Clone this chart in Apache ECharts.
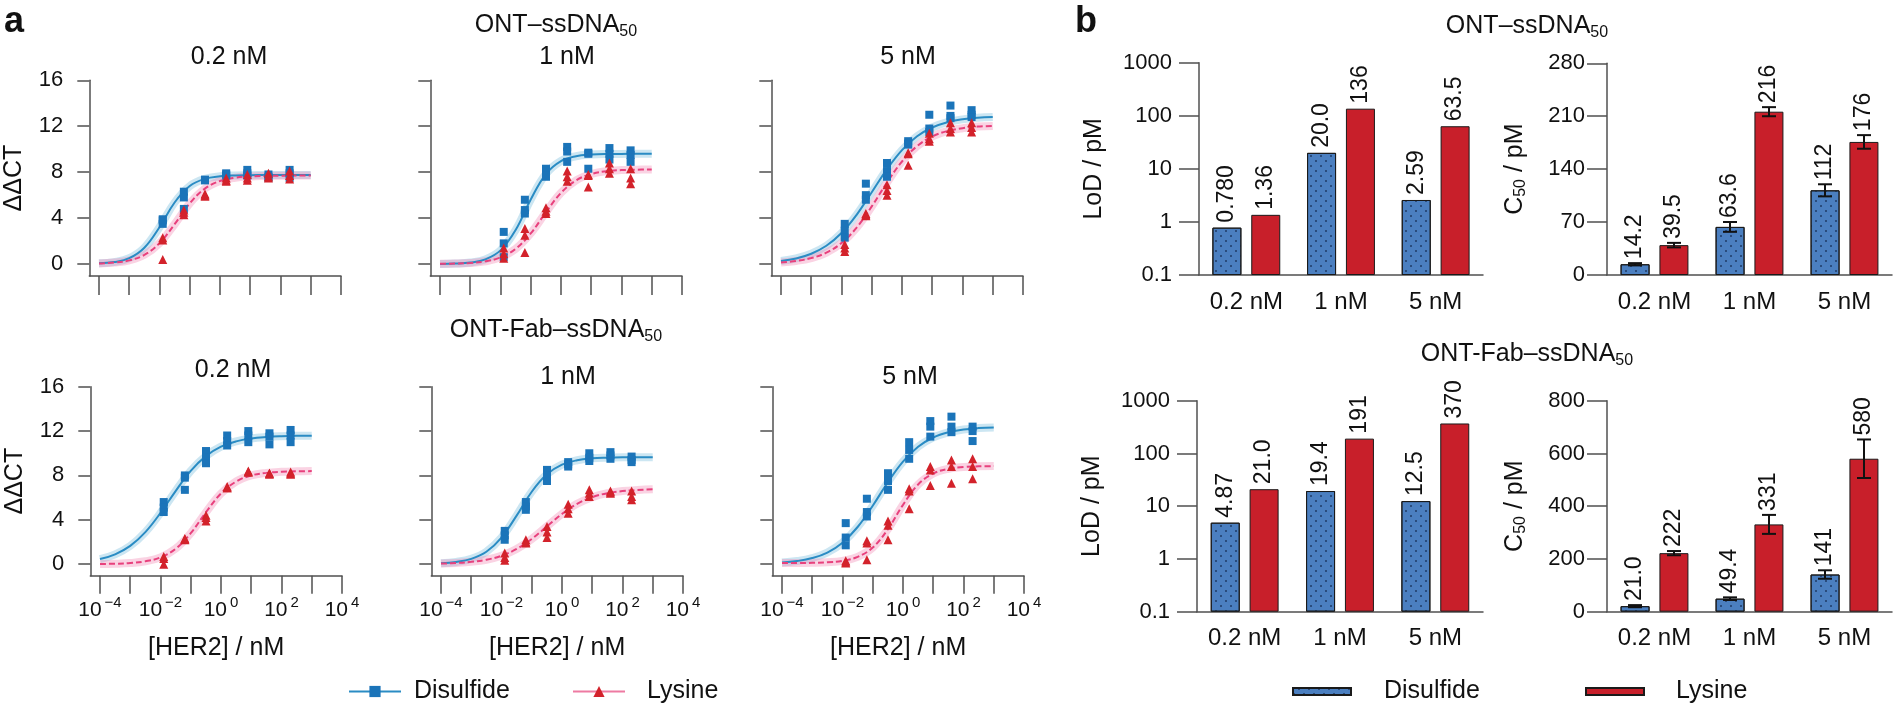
<!DOCTYPE html>
<html>
<head>
<meta charset="utf-8">
<title>HER2 dose response, Disulfide vs Lysine</title>
<script src="https://cdn.jsdelivr.net/npm/echarts@6/dist/echarts.min.js"></script>
<style>
  html, body { margin: 0; padding: 0; background: #fff; }
  #main { width: 1893px; height: 709px; }
</style>
</head>
<body>
<div id="main"></div>
<script>
// ---------- data ----------
// HER2 concentrations (nM), 5-fold dilution
const her2Conc = [0.0128, 0.064, 0.32, 1.6, 8, 40, 200];
// fitted curves read every half decade, log10([HER2] / nM)
const curveLogX = [-4, -3.5, -3, -2.5, -2, -1.5, -1, -0.5, 0, 0.5, 1, 1.5, 2, 2.5, 3];

// ONT-ssDNA50, ΔΔCT replicates (one row per concentration)
const ssDis02 = [[3.5, 3.8, 3.9], [6.3, 5.8, 4.8], [7.3, 7.35, 7.3], [7.7, 7.9, 7.8], [8.2, 7.9, 7.7], [7.8, 7.5, 7.6], [8.2, 7.9, 7.5]];
const ssLys02 = [[2.3, 2.1, 0.4], [4.7, 4.5, 4.3], [6.1, 6.0, 5.9], [7.5, 7.3, 7.2], [7.8, 7.5, 7.3], [7.9, 7.6, 7.5], [8.1, 7.7, 7.4]];
const ssFitDis02 = [0.06, 0.17, 0.51, 1.42, 3.21, 5.36, 6.79, 7.42, 7.64, 7.72, 7.74, 7.75, 7.75, 7.75, 7.75];
const ssFitLys02 = [0.05, 0.13, 0.32, 0.80, 1.82, 3.47, 5.28, 6.57, 7.23, 7.52, 7.63, 7.67, 7.69, 7.70, 7.70];

const ssDis1 = [[2.8, 1.8, 0.6], [5.6, 4.7, 4.4], [8.3, 7.6, 7.7], [10.2, 9.8, 8.9], [9.7, 9.6, 8.3], [10.1, 9.6, 9.1], [9.9, 9.5, 8.9]];
const ssLys1 = [[1.4, 0.9, 0.5], [3.1, 2.5, 1.0], [4.9, 4.6, 4.4], [8.1, 7.6, 7.2], [7.8, 7.7, 6.7], [8.8, 8.3, 7.9], [8.3, 7.5, 7.0]];
const ssFitDis1 = [0.01, 0.04, 0.13, 0.41, 1.19, 2.96, 5.62, 7.84, 8.97, 9.39, 9.53, 9.58, 9.59, 9.60, 9.60];
const ssFitLys1 = [0.02, 0.04, 0.10, 0.24, 0.58, 1.32, 2.67, 4.50, 6.20, 7.29, 7.84, 8.08, 8.18, 8.22, 8.24];

const ssDis5 = [[3.5, 2.9, 2.3], [7.0, 6.0, 5.6], [8.8, 8.1, 7.6], [10.7, 10.5, 10.4], [13.0, 11.8, 11.5], [13.8, 12.9, 12.7], [13.4, 13.0, 12.8]];
const ssLys5 = [[1.7, 1.4, 1.1], [4.4, 4.3, 4.2], [6.9, 6.4, 6.0], [9.7, 9.6, 8.6], [11.4, 10.9, 10.7], [12.3, 11.8, 11.5], [12.3, 11.9, 11.5]];
const ssFitDis5 = [0.27, 0.49, 0.90, 1.59, 2.70, 4.29, 6.25, 8.24, 9.92, 11.13, 11.89, 12.35, 12.60, 12.74, 12.81];
const ssFitLys5 = [0.13, 0.27, 0.52, 0.99, 1.83, 3.17, 5.02, 7.08, 8.93, 10.27, 11.11, 11.58, 11.83, 11.97, 12.03];

// ONT-Fab-ssDNA50
const fabDis02 = [[5.6, 5.1, 4.7], [8.0, 7.8, 6.7], [10.2, 9.6, 9.1], [11.6, 11.1, 10.7], [12.0, 11.6, 11.0], [11.8, 11.5, 10.8], [12.1, 11.6, 11.0]];
const fabLys02 = [[0.7, 0.5, 0.0], [2.3, 2.2, 2.3], [4.4, 4.2, 3.9], [7.0, 6.9, 6.9], [8.4, 8.3, 8.3], [8.2, 8.2, 8.1], [8.3, 8.2, 8.1]];
const fabFitDis02 = [0.46, 0.89, 1.65, 2.89, 4.62, 6.59, 8.41, 9.74, 10.59, 11.07, 11.33, 11.46, 11.53, 11.57, 11.58];
const fabFitLys02 = [0.02, 0.04, 0.10, 0.26, 0.61, 1.39, 2.79, 4.67, 6.37, 7.45, 8.00, 8.23, 8.33, 8.37, 8.39];

const fabDis1 = [[3.0, 2.6, 2.2], [5.6, 5.2, 4.9], [8.5, 8.0, 7.5], [9.2, 9.0, 8.8], [10.0, 9.6, 9.3], [10.1, 9.8, 9.5], [9.7, 9.4, 9.2]];
const fabLys1 = [[1.0, 0.6, 0.35], [2.2, 2.0, 1.9], [3.4, 2.9, 2.4], [5.4, 5.0, 4.6], [6.7, 6.4, 6.1], [6.6, 6.5, 6.4], [6.6, 6.1, 5.8]];
const fabFitDis1 = [0.08, 0.20, 0.48, 1.12, 2.40, 4.38, 6.53, 8.10, 8.97, 9.37, 9.54, 9.60, 9.63, 9.64, 9.65];
const fabFitLys1 = [0.05, 0.11, 0.21, 0.40, 0.76, 1.37, 2.27, 3.40, 4.53, 5.44, 6.04, 6.40, 6.59, 6.69, 6.75];

const fabDis5 = [[3.7, 2.4, 1.7], [5.9, 4.7, 4.3], [8.2, 7.5, 6.7], [11.0, 10.3, 9.5], [12.9, 12.4, 11.5], [13.3, 12.4, 11.9], [12.4, 12.0, 11.1]];
const fabLys5 = [[0.3, 0.2, 0.1], [2.1, 1.9, 0.4], [3.9, 3.5, 2.2], [6.8, 6.6, 5.0], [8.8, 8.5, 7.1], [9.4, 8.8, 7.3], [9.5, 8.8, 7.7]];
const fabFitDis5 = [0.14, 0.28, 0.55, 1.05, 1.94, 3.35, 5.27, 7.39, 9.25, 10.59, 11.42, 11.89, 12.14, 12.27, 12.33];
const fabFitLys5 = [0.10, 0.10, 0.12, 0.17, 0.30, 0.65, 1.50, 3.15, 5.35, 7.18, 8.17, 8.60, 8.76, 8.82, 8.84];

// panel b
const probeConc = ['0.2 nM', '1 nM', '5 nM'];
const lodSsDis = [0.780, 20.0, 2.59];
const lodSsLys = [1.36, 136, 63.5];
const c50SsDis = [14.2, 63.6, 112];
const c50SsDisErr = [1.5, 6.5, 8];
const c50SsLys = [39.5, 216, 176];
const c50SsLysErr = [3, 6, 9];
const lodFabDis = [4.87, 19.4, 12.5];
const lodFabLys = [21.0, 191, 370];
const c50FabDis = [21.0, 49.4, 141];
const c50FabDisErr = [4, 5, 16];
const c50FabLys = [222, 331, 580];
const c50FabLysErr = [8, 36, 73];

const xTicks = [-4, -3, -2, -1, 0, 1, 2, 3, 4];
const xLabels = [-4, -2, 0, 2, 4];
const yTicks = [0, 4, 8, 12, 16];

// ---------- style ----------
const FONT = '"Liberation Sans", Arial, Helvetica, sans-serif';
const INK = '#111';
const AXIS = '#505050';
const BLUE = '#1b74b9';
const RED = '#d3222b';
const BLUE_FIT = '#2a8cc4';
const PINK_FIT = '#e8417d';
const BLUE_BAND = 'rgba(120,190,222,0.38)';
const PINK_BAND = 'rgba(242,140,182,0.38)';
const BAR_BLUE = '#4b7fc0';
const BAR_RED = '#c81f2a';
const BAR_W = 29;
const BAR_SHIFT = 19.5;
const CAP = 7;

const dosePanels = [
  { dis: ssDis02, lys: ssLys02, fitDis: ssFitDis02, fitLys: ssFitLys02 },
  { dis: ssDis1, lys: ssLys1, fitDis: ssFitDis1, fitLys: ssFitLys1 },
  { dis: ssDis5, lys: ssLys5, fitDis: ssFitDis5, fitLys: ssFitLys5 },
  { dis: fabDis02, lys: fabLys02, fitDis: fabFitDis02, fitLys: fabFitLys02 },
  { dis: fabDis1, lys: fabLys1, fitDis: fabFitDis1, fitLys: fabFitLys1 },
  { dis: fabDis5, lys: fabLys5, fitDis: fabFitDis5, fitLys: fabFitLys5 }
];
const doseLayout = [
  { left: 89.3, top: 80.3, height: 195.7 },
  { left: 430.3, top: 80.3, height: 195.7 },
  { left: 771.3, top: 80.3, height: 195.7 },
  { left: 90.3, top: 386.7, height: 189 },
  { left: 431.3, top: 386.7, height: 189 },
  { left: 772.3, top: 386.7, height: 189 }
];
const barLayout = [
  { left: 1199, top: 62.7, width: 284, height: 212.3 },
  { left: 1607, top: 63.3, width: 285, height: 211.7 },
  { left: 1197, top: 400.7, width: 286, height: 211 },
  { left: 1607, top: 400.7, width: 285, height: 211 }
];

function replicatePoints(reps) {
  const pts = [];
  her2Conc.forEach((c, k) => reps[k].forEach(v => pts.push([Math.log10(c), v])));
  return pts;
}
function fitPoints(fit) {
  return curveLogX.map((lx, k) => [lx, fit[k]]);
}
function supLabel(v) {
  return '{b|10}{e|' + (v < 0 ? '\u2212' + (-v) : v) + '}';
}

const grids = [];
const xAxes = [];
const yAxes = [];
const series = [];

doseLayout.forEach((g, i) => {
  const bottomRow = i >= 3;
  grids.push({ left: g.left, top: g.top, width: 251.7, height: g.height, outerBoundsMode: 'none' });
  xAxes.push({
    gridIndex: i, type: 'value', min: -4.32, max: 4,
    axisLine: { onZero: false, lineStyle: { color: AXIS, width: 1.5 } },
    axisTick: { show: true, customValues: xTicks, length: bottomRow ? 18 : 19, lineStyle: { color: AXIS, width: 1.5 } },
    axisLabel: {
      show: bottomRow, customValues: xLabels, margin: 20, formatter: supLabel,
      rich: {
        b: { fontSize: 21, fontFamily: FONT, color: INK },
        e: { fontSize: 15, fontFamily: FONT, color: INK, padding: [0, 0, 15, 3] }
      }
    },
    splitLine: { show: false },
    name: bottomRow ? '[HER2] / nM' : '', nameLocation: 'middle', nameGap: 60,
    nameTextStyle: { fontSize: 25, fontFamily: FONT, color: INK }
  });
  yAxes.push({
    gridIndex: i, type: 'value', min: -1.04, max: 16,
    axisLine: { show: true, onZero: false, lineStyle: { color: AXIS, width: 1.5 } },
    axisTick: { show: true, customValues: yTicks, length: 12, lineStyle: { color: AXIS, width: 1.5 } },
    axisLabel: { show: i % 3 === 0, customValues: yTicks, margin: 26, fontSize: 22, fontFamily: FONT, color: INK },
    splitLine: { show: false },
    name: i % 3 === 0 ? '\u0394\u0394CT' : '', nameLocation: 'middle', nameGap: 63,
    nameTextStyle: { fontSize: 25, fontFamily: FONT, color: INK }
  });

  const p = dosePanels[i];
  const common = { xAxisIndex: i, yAxisIndex: i, silent: true, animation: false };
  series.push(
    Object.assign({ type: 'line', name: 'band dis ' + i, data: fitPoints(p.fitDis), smooth: 0.4, symbol: 'none', lineStyle: { color: BLUE_BAND, width: 8 }, z: 1 }, common),
    Object.assign({ type: 'line', name: 'band lys ' + i, data: fitPoints(p.fitLys), smooth: 0.4, symbol: 'none', lineStyle: { color: PINK_BAND, width: 8 }, z: 1 }, common),
    Object.assign({ type: 'line', name: 'fit dis ' + i, data: fitPoints(p.fitDis), smooth: 0.4, symbol: 'none', lineStyle: { color: BLUE_FIT, width: 2 }, z: 2 }, common),
    Object.assign({ type: 'line', name: 'fit lys ' + i, data: fitPoints(p.fitLys), smooth: 0.4, symbol: 'none', lineStyle: { color: PINK_FIT, width: 2, type: [6, 3] }, z: 3 }, common),
    Object.assign({ type: 'scatter', name: 'pts dis ' + i, data: replicatePoints(p.dis), symbol: 'rect', symbolSize: 8, itemStyle: { color: BLUE, opacity: 1 }, z: 4 }, common),
    Object.assign({ type: 'scatter', name: 'pts lys ' + i, data: replicatePoints(p.lys), symbol: 'triangle', symbolSize: 9, itemStyle: { color: RED, opacity: 1 }, z: 5 }, common)
  );
});

// legend-only series for panel a
series.push(
  { type: 'line', name: 'Disulfide', xAxisIndex: 0, yAxisIndex: 0, data: [], symbol: 'rect', symbolSize: 12, itemStyle: { color: BLUE }, lineStyle: { color: BLUE_FIT, width: 2 } },
  { type: 'line', name: 'Lysine', xAxisIndex: 0, yAxisIndex: 0, data: [], symbol: 'triangle', symbolSize: 12, itemStyle: { color: RED }, lineStyle: { color: '#ee7aa2', width: 3 } }
);

// staggered navy dots on the Disulfide bars
const DOTS = { symbol: 'rect', symbolSize: 1, dashArrayX: [[2, 8], [0, 5, 2, 3]], dashArrayY: [2, 3], color: '#14295099', rotation: 0 };
const valueLabel = {
  show: true, position: 'top', rotate: 90, align: 'left', verticalAlign: 'middle', distance: 5,
  fontSize: 23, fontFamily: FONT, color: INK,
  formatter: p => Number(p.value).toPrecision(3)
};

function errorBars(gi, values, errs, side) {
  return {
    type: 'custom', name: 'err ' + gi + side, xAxisIndex: gi, yAxisIndex: gi, silent: true, z: 6,
    data: values.map((v, k) => [k, v, errs[k]]),
    renderItem: (params, api) => {
      const v = api.value(1), e = api.value(2);
      const hi = api.coord([api.value(0), v + e]);
      const lo = api.coord([api.value(0), v - e]);
      const x = hi[0] + side * BAR_SHIFT;
      const st = { stroke: '#111', lineWidth: 2 };
      return {
        type: 'group', children: [
          { type: 'line', shape: { x1: x, y1: hi[1], x2: x, y2: lo[1] }, style: st },
          { type: 'line', shape: { x1: x - CAP, y1: hi[1], x2: x + CAP, y2: hi[1] }, style: st },
          { type: 'line', shape: { x1: x - CAP, y1: lo[1], x2: x + CAP, y2: lo[1] }, style: st },
          {
            type: 'text', x: x, y: hi[1] - 4, rotation: Math.PI / 2,
            style: { text: v.toPrecision(3), fill: INK, font: '23px ' + FONT, align: 'left', verticalAlign: 'middle', textAlign: 'left', textVerticalAlign: 'middle' }
          }
        ]
      };
    }
  };
}

const barSets = [
  { dis: lodSsDis, lys: lodSsLys, log: true },
  { dis: c50SsDis, lys: c50SsLys, disErr: c50SsDisErr, lysErr: c50SsLysErr, max: 280, interval: 70 },
  { dis: lodFabDis, lys: lodFabLys, log: true },
  { dis: c50FabDis, lys: c50FabLys, disErr: c50FabDisErr, lysErr: c50FabLysErr, max: 800, interval: 200 }
];

barSets.forEach((b, j) => {
  const gi = 6 + j;
  const g = barLayout[j];
  grids.push({ left: g.left, top: g.top, width: g.width, height: g.height, outerBoundsMode: 'none' });
  xAxes.push({
    gridIndex: gi, type: 'category', data: probeConc,
    axisLine: { lineStyle: { color: AXIS, width: 1.5 } },
    axisTick: { show: false },
    axisLabel: { interval: 0, fontSize: 24, fontFamily: FONT, color: INK, margin: 15 }
  });
  const yBase = {
    gridIndex: gi,
    axisLine: { show: true, lineStyle: { color: AXIS, width: 1.5 } },
    axisTick: { show: true, length: 20, lineStyle: { color: AXIS, width: 1.5 } },
    axisLabel: { fontSize: 22, fontFamily: FONT, color: INK, margin: b.log ? 27 : 22, formatter: v => String(v) },
    splitLine: { show: false },
    nameLocation: 'middle',
    nameTextStyle: { fontSize: 25, fontFamily: FONT, color: INK }
  };
  if (b.log) {
    // bars grow from the bottom of the log axis (0.1 pM)
    yAxes.push(Object.assign(yBase, { type: 'log', logBase: 10, min: 0.1, max: 1000, startValue: 0.1, name: 'LoD / pM', nameGap: 92 }));
  } else {
    yAxes.push(Object.assign(yBase, {
      type: 'value', min: 0, max: b.max, interval: b.interval,
      name: '{c|C}{s|50}{c| / pM}', nameGap: 78,
      nameTextStyle: {
        fontSize: 25, fontFamily: FONT, color: INK,
        rich: { c: { fontSize: 25, fontFamily: FONT, color: INK }, s: { fontSize: 16, fontFamily: FONT, color: INK, padding: [12, 0, 0, 0] } }
      }
    }));
  }
  series.push(
    {
      type: 'bar', name: 'Disulfide bars', xAxisIndex: gi, yAxisIndex: gi, data: b.dis, barWidth: BAR_W, barGap: '34%',
      itemStyle: { color: BAR_BLUE, borderColor: '#1a1a1a', borderWidth: 1, decal: DOTS },
      label: b.log ? valueLabel : { show: false }, silent: true
    },
    {
      type: 'bar', name: 'Lysine bars', xAxisIndex: gi, yAxisIndex: gi, data: b.lys, barWidth: BAR_W, barGap: '34%',
      itemStyle: { color: BAR_RED, borderColor: '#1a1a1a', borderWidth: 1 },
      label: b.log ? valueLabel : { show: false }, silent: true
    }
  );
  if (!b.log) {
    series.push(errorBars(gi, b.dis, b.disErr, -1), errorBars(gi, b.lys, b.lysErr, 1));
  }
});

function titleText(x, y, text, size, bold) {
  return {
    type: 'text', x: x, y: y, silent: true,
    style: {
      text: text, fill: INK, font: (bold ? 'bold ' : '') + size + 'px ' + FONT,
      align: 'center', verticalAlign: 'middle', textAlign: 'center', textVerticalAlign: 'middle',
      rich: {
        m: { fontSize: size, fontFamily: FONT, fill: INK },
        s: { fontSize: 16, fontFamily: FONT, fill: INK, padding: [14, 0, 0, 0] }
      }
    }
  };
}

const legendText = { fontSize: 25, fontFamily: FONT, color: INK };

const option = {
  backgroundColor: '#fff',
  animation: false,
  textStyle: { fontFamily: FONT },
  grid: grids,
  xAxis: xAxes,
  yAxis: yAxes,
  series: series,
  legend: [
    { data: ['Disulfide'], left: 348, top: 679, padding: 0, itemWidth: 52, itemHeight: 14, selectedMode: false,
      textStyle: Object.assign({ padding: [0, 0, 0, 8] }, legendText) },
    { data: ['Lysine'], left: 572, top: 679, padding: 0, itemWidth: 52, itemHeight: 14, selectedMode: false,
      textStyle: Object.assign({ padding: [0, 0, 0, 17] }, legendText) },
    { data: ['Disulfide bars'], formatter: () => 'Disulfide', left: 1292, top: 679, padding: 0, itemWidth: 58, itemHeight: 7, icon: 'rect', selectedMode: false,
      textStyle: Object.assign({ padding: [0, 0, 0, 28] }, legendText) },
    { data: ['Lysine bars'], formatter: () => 'Lysine', left: 1585, top: 679, padding: 0, itemWidth: 58, itemHeight: 7, icon: 'rect', selectedMode: false,
      textStyle: Object.assign({ padding: [0, 0, 0, 27] }, legendText) }
  ],
  graphic: [
    titleText(14, 22, 'a', 36, true),
    titleText(1086, 22, 'b', 36, true),
    titleText(229, 57, '0.2 nM', 25),
    titleText(556, 25, '{m|ONT\u2013ssDNA}{s|50}', 25),
    titleText(567, 57, '1 nM', 25),
    titleText(908, 57, '5 nM', 25),
    titleText(556, 330, '{m|ONT-Fab\u2013ssDNA}{s|50}', 25),
    titleText(233, 370, '0.2 nM', 25),
    titleText(568, 377, '1 nM', 25),
    titleText(910, 377, '5 nM', 25),
    titleText(1527, 26, '{m|ONT\u2013ssDNA}{s|50}', 25),
    titleText(1527, 354, '{m|ONT-Fab\u2013ssDNA}{s|50}', 25)
  ]
};

const chart = echarts.init(document.getElementById('main'));
chart.setOption(option);
</script>
</body>
</html>
